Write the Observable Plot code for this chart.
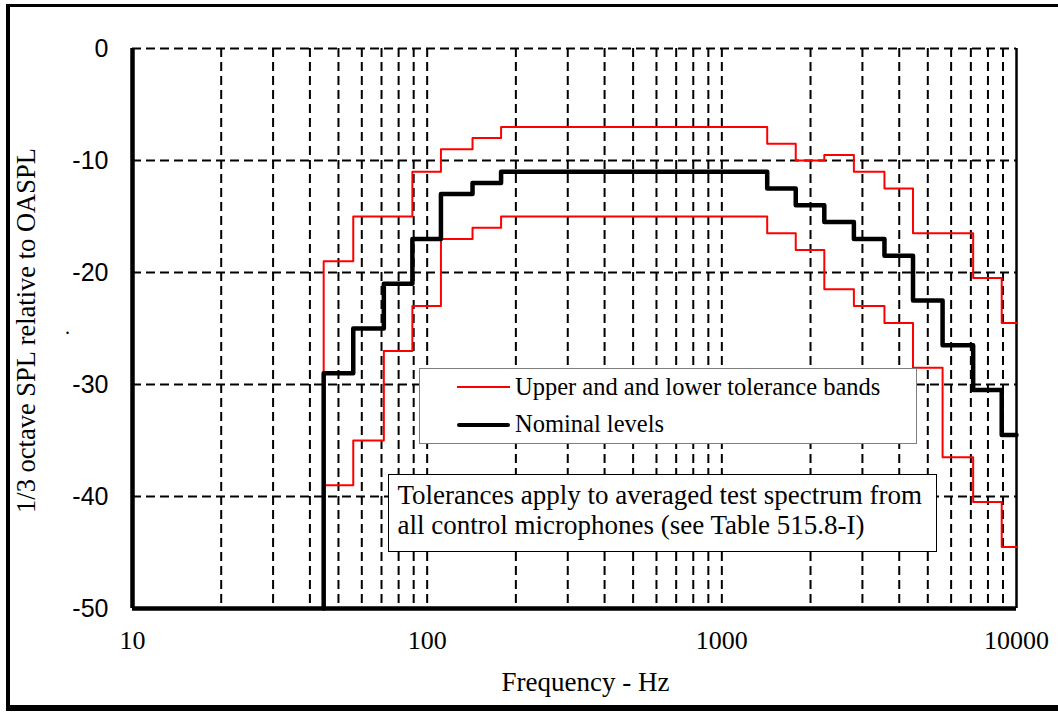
<!DOCTYPE html>
<html>
<head>
<meta charset="utf-8">
<script src="https://cdn.jsdelivr.net/npm/d3@7"></script>
<script src="https://cdn.jsdelivr.net/npm/@observablehq/plot@0.6"></script>
<style>
  body { margin: 0; background: #fff; }
  #wrap { position: relative; width: 1058px; height: 713px; overflow: hidden; background: #fff; }
  #wrap svg { position: absolute; left: 0; top: 0; }
  #border { position: absolute; left: 6px; top: 4px; width: 1070px; height: 698px;
            border-left: 4px solid #000; border-top: 3px solid #000; border-bottom: 6px solid #000; }
  .box { position: absolute; background: #fff; box-sizing: border-box;
         font-family: "Liberation Serif", "Times New Roman", serif; color: #000; }
  .box span { position: absolute; white-space: nowrap; }
  #legend { font-size: 24.5px; line-height: 24.5px; }
  #note { font-size: 27px; line-height: 27px; }
  .swatch { position: absolute; }
</style>
</head>
<body>
<div id="wrap">
  <div id="border"></div>
  <div id="chart"></div>
  <div class="box" id="legend" style="left:419px; top:368px; width:498px; height:76px; border:1px solid #7f7f7f;">
    <div class="swatch" style="left:37px; top:17px; width:53px; height:2px; background:#ff0000;"></div>
    <span style="left:95px; top:5.5px;">Upper and and lower tolerance bands</span>
    <div class="swatch" style="left:37px; top:54px; width:53px; height:4px; background:#000; border-radius:2px;"></div>
    <span style="left:95px; top:42.5px;">Nominal levels</span>
  </div>
  <div class="box" id="note" style="left:388px; top:474px; width:549px; height:78px; border:1.5px solid #000;">
    <span style="left:8.5px; top:7px;">Tolerances apply to averaged test spectrum from</span>
    <span style="left:8.5px; top:37px;">all control microphones (see Table 515.8-I)</span>
  </div>
</div>
<script>
// 1/3-octave band centre frequencies (Hz)
const bandCenters = [50, 63, 80, 100, 125, 160, 200, 250, 315, 400, 500, 630, 800, 1000, 1250,
                     1600, 2000, 2500, 3150, 4000, 5000, 6300, 8000, 10000];
// Levels relative to OASPL (dB)
const nominal = [-29, -25, -21, -17, -13, -12, -11, -11, -11, -11, -11, -11, -11, -11, -11,
                 -12.5, -14, -15.5, -17, -18.5, -22.5, -26.5, -30.5, -34.5];
const upper = [-19, -15, -15, -11, -9, -8, -7, -7, -7, -7, -7, -7, -7, -7, -7,
               -8.5, -10, -9.5, -11, -12.5, -16.5, -16.5, -20.5, -24.5];
const lower = [-39, -35, -27, -23, -17, -16, -15, -15, -15, -15, -15, -15, -15, -15, -15,
               -16.5, -18, -21.5, -23, -24.5, -28.5, -36.5, -40.5, -44.5];
// level each trace rises from at the first band edge (null = none)
const nominalStart = -50;
const upperStart = -29;
const lowerStart = null;

const xTicks = [10, 100, 1000, 10000];
const yTicks = [0, -10, -20, -30, -40, -50];
const gridFreqs = [20, 30, 40, 50, 60, 70, 80, 90, 100,
                   200, 300, 400, 500, 600, 700, 800, 900, 1000,
                   2000, 3000, 4000, 5000, 6000, 7000, 8000, 9000];
const gridLevels = [0, -10, -20, -30, -40];
const xDomain = [10, 10000];
const yDomain = [-50, 0];

const lowerEdge = f => f / Math.pow(2, 1 / 6);
function steps(values, start) {
  const pts = [];
  if (start != null) pts.push({f: lowerEdge(bandCenters[0]), v: start});
  bandCenters.forEach((c, i) => pts.push({f: lowerEdge(c), v: values[i]}));
  pts.push({f: xDomain[1], v: values[values.length - 1]});
  return pts;
}

const serif = "Liberation Serif, Times New Roman, serif";
const dash = "9,5";
const chart = Plot.plot({
  width: 1058,
  height: 713,
  marginLeft: 132,
  marginRight: 42,
  marginTop: 48,
  marginBottom: 105,
  style: {background: "transparent", overflow: "visible"},
  x: {type: "log", domain: xDomain},
  y: {domain: yDomain},
  marks: [
    Plot.ruleX(gridFreqs, {stroke: "#000", strokeWidth: 2, strokeDasharray: dash}),
    Plot.ruleY(gridLevels, {stroke: "#000", strokeWidth: 2, strokeDasharray: dash}),
    Plot.ruleX([xDomain[1]], {stroke: "#000", strokeWidth: 2.5}),
    Plot.line(steps(upper, upperStart), {x: "f", y: "v", curve: "step-after", stroke: "#ff0000", strokeWidth: 2}),
    Plot.line(steps(lower, lowerStart), {x: "f", y: "v", curve: "step-after", stroke: "#ff0000", strokeWidth: 2}),
    Plot.line(steps(nominal, nominalStart), {x: "f", y: "v", curve: "step-after", stroke: "#000", strokeWidth: 4.5}),
    Plot.ruleX([xDomain[0]], {stroke: "#000", strokeWidth: 4.5}),
    Plot.ruleY([yDomain[0]], {stroke: "#000", strokeWidth: 4.5}),
    Plot.axisY({ticks: yTicks, tickFormat: d => String(d), tickSize: 0, tickPadding: 24, fontSize: 25,
                fontFamily: "Liberation Sans, Arial, sans-serif", label: null}),
    Plot.axisX({ticks: xTicks, tickFormat: d => String(d), tickSize: 0, tickPadding: 22, fontSize: 26,
                fontFamily: serif, label: null}),
    Plot.text(["Frequency - Hz"], {frameAnchor: "bottom", textAnchor: "middle", dx: 11, dy: 74, fontSize: 27,
                fontFamily: serif, lineAnchor: "middle"}),
    Plot.text(["1/3 octave SPL relative to OASPL"], {frameAnchor: "left", textAnchor: "middle", rotate: -90,
                dx: -106, dy: 2, fontSize: 26.5, fontFamily: serif, lineAnchor: "middle"}),
    Plot.text(["."], {frameAnchor: "left", textAnchor: "middle", dx: -65, dy: 5, fontSize: 20,
                fontFamily: serif, lineAnchor: "bottom"})
  ]
});
document.getElementById("chart").appendChild(chart);
</script>
</body>
</html>
